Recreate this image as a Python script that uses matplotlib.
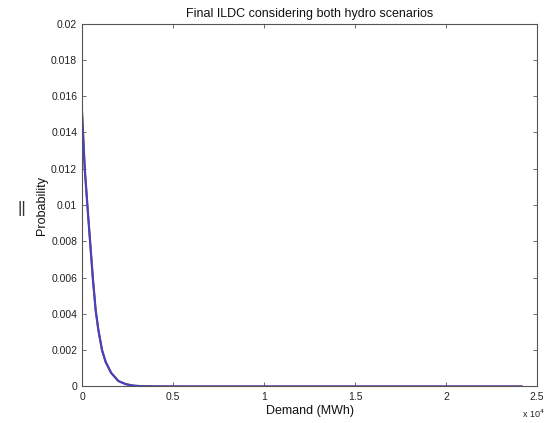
import matplotlib
matplotlib.use("Agg")
import matplotlib.pyplot as plt
from matplotlib.ticker import FuncFormatter, MultipleLocator

plt.rcParams["font.family"] = ["Liberation Sans", "DejaVu Sans"]

# Data
demand = [0, 150, 300, 450, 600, 750, 900, 1100, 1300, 1600, 2000, 2400, 2800,
          3200, 4000, 6000, 10000, 15000, 20000, 24150]
prob_a = [0.0151, 0.0120, 0.0099, 0.0079, 0.0059, 0.0042, 0.0031, 0.0020, 0.00135,
          0.00075, 0.00030, 0.00013, 0.00005, 0.00002, 0.000005, 0.0, 0.0, 0.0, 0.0, 0.0]
prob_b = list(prob_a)

title = "Final ILDC considering both hydro scenarios"
xlabel = "Demand (MWh)"
ylabel = "Probability"

fig = plt.figure(figsize=(5.45, 4.23), dpi=100)
ax = fig.add_axes([0.1505, 0.0863, 0.8348, 0.8581])

ax.plot(demand, prob_b, color="#8a3060", lw=1.6)
ax.plot(demand, prob_a, color="#3a48c8", lw=1.3)

ax.set_xlim(0, 25000)
ax.set_ylim(0, 0.02)
ax.xaxis.set_major_locator(MultipleLocator(5000))
ax.yaxis.set_major_locator(MultipleLocator(0.002))
ax.xaxis.set_major_formatter(FuncFormatter(lambda v, p: "%g" % (v / 1e4)))
ax.yaxis.set_major_formatter(FuncFormatter(lambda v, p: "%g" % round(v, 4)))

for s in ax.spines.values():
    s.set_color("#555555")
    s.set_linewidth(0.8)
ax.tick_params(direction="in", top=True, right=True, length=3, width=0.6,
               colors="#555555", labelcolor="#222222", labelsize=7.5)
ax.tick_params(axis="x", pad=4)

ax.set_title(title, fontsize=9, pad=5, color="#111111")
ax.set_xlabel(xlabel, fontsize=9, labelpad=2, color="#111111")
ax.set_ylabel(ylabel, fontsize=9, labelpad=2, color="#111111")

fig.text(0.958, 0.012, r"x 10$^4$", fontsize=6.5, color="#222222")
fig.text(0.040, 0.508, "||", fontsize=12, color="#333333", ha="center", va="center")

fig.savefig("out.png", dpi=100)
